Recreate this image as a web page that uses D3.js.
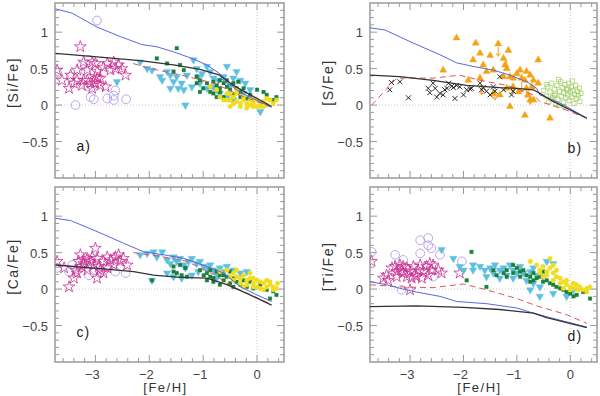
<!DOCTYPE html>
<html lang="en">
<head>
<meta charset="UTF-8">
<title>[X/Fe] vs [Fe/H]</title>
<style>
    body { margin: 0; background: #fff; }
    svg { display: block; font-family: "Liberation Sans", Arial, sans-serif; }
</style>
<script src="https://d3js.org/d3.v7.min.js"></script>
</head>
<body>
<div id="chart"></div>
<script>
// ---------- panel a : [Si/Fe] ----------
const siStars = [[-3.28,0.80],[-3.71,0.48],[-3.46,0.41],[-3.49,0.23],[-3.34,0.34],[-3.22,0.34],[-3.09,0.30],[-3.0,0.57],[-2.97,0.46],[-2.96,0.37],[-3.0,0.30],[-2.91,0.27],[-2.81,0.25],[-2.78,0.57],[-2.66,0.59],[-2.63,0.50],[-2.57,0.55],[-2.51,0.50],[-2.44,0.41],[-2.72,0.48],[-2.85,0.52],[-3.15,0.48],[-3.34,0.48],[-3.22,0.59],[-3.06,0.59],[-3.0,0.39],[-3.15,0.34],[-2.91,0.37],[-3.4,0.30],[-3.62,0.34],[-3.06,0.23],[-3.25,0.27]];
const siCircles = [[-2.97,1.16],[-3.37,0.0],[-3.09,0.11],[-3.03,0.08],[-2.78,0.09],[-2.66,0.13],[-2.63,0.20],[-2.66,0.07],[-2.43,0.08],[-3.12,0.62],[-3.18,0.46],[-3.46,0.39],[-3.15,0.26],[-3.71,0.44],[-3.25,0.54]];
const siTriangles = [[-2.17,0.59],[-2.04,0.50],[-1.95,0.48],[-1.80,0.39],[-1.67,0.46],[-1.76,0.34],[-1.61,0.41],[-1.55,0.32],[-1.46,0.23],[-1.36,0.21],[-1.33,0.0],[-1.61,0.23],[-1.49,0.39],[-1.18,0.62],[-1.12,0.50],[-1.02,0.43],[-0.93,0.53],[-0.87,0.46],[-0.81,0.37],[-0.72,0.34],[-0.62,0.39],[-0.56,0.53],[-0.44,0.37],[-0.38,0.46],[-0.81,0.25],[-0.93,0.23],[-1.06,0.30],[-0.75,0.21],[-0.5,0.27],[-0.31,0.34],[-0.22,0.30],[-0.69,0.16],[-0.56,0.11],[-0.44,0.07],[-0.25,0.16],[-1.30,0.41],[-1.40,0.30],[-1.21,0.25],[-1.09,0.39],[0.06,-0.09],[-0.13,0.21],[-2.60,0.32]];
const siSquares = [[-1.86,0.64],[-1.49,0.78],[-1.67,0.57],[-1.43,0.55],[-1.36,0.48],[-1.55,0.46],[-1.12,0.39],[-1.06,0.34],[-0.93,0.30],[-0.87,0.25],[-0.81,0.32],[-0.75,0.27],[-0.69,0.23],[-0.62,0.30],[-0.56,0.25],[-0.5,0.21],[-0.44,0.30],[-0.38,0.23],[-0.31,0.18],[-0.81,0.16],[-0.75,0.11],[-0.69,0.18],[-0.62,0.11],[-0.5,0.07],[-0.44,0.14],[-0.31,0.11],[-0.19,0.09],[-0.07,0.07],[0.0,0.21],[0.12,0.18],[0.18,0.14],[0.30,0.07],[0.36,0.11],[-1.06,0.18],[-1.0,0.23],[-0.87,0.18],[-0.56,0.34],[-0.69,0.34],[-1.12,0.30],[-0.35,0.32],[-0.25,0.23],[-0.13,0.14]];
const siDots = [[-0.87,0.25],[-0.75,0.21],[-0.69,0.11],[-0.56,0.16],[-0.5,0.07],[-0.44,0.11],[-0.38,0.05],[-0.31,0.02],[-0.25,0.07],[-0.19,0.02],[-0.13,0.0],[-0.07,-0.02],[0.0,0.07],[0.06,0.02],[0.12,0.05],[0.18,0.09],[0.24,0.07],[0.30,0.02],[-0.44,0.02],[-0.5,-0.02],[-0.31,-0.02],[-0.19,-0.04],[-0.07,0.02],[0.06,-0.02],[0.18,0.0],[-0.62,0.07],[-0.38,0.16],[-0.25,0.11],[-0.13,0.07],[0.0,-0.02],[0.12,-0.02],[-0.38,0.21],[-0.5,0.16],[-0.56,0.07],[-0.07,0.07],[0.36,0.07]];
const siBlue = [[-3.74,1.32],[-3.43,1.26],[-2.97,1.07],[-2.54,0.94],[-2.14,0.83],[-1.86,0.80],[-1.55,0.73],[-1.21,0.64],[-0.93,0.55],[-0.69,0.43],[-0.66,0.36],[-0.3,0.17],[0.27,-0.03]];
const siBlack = [[-3.74,0.71],[-2.97,0.66],[-2.17,0.61],[-1.55,0.55],[-1.06,0.49],[-0.69,0.41],[-0.44,0.27],[0.27,-0.02]];
const siRed = [[-2.3,0.57],[-1.98,0.50],[-1.39,0.41],[-0.8,0.3],[-0.3,0.13],[0.25,-0.02]];

// ---------- panel b : [S/Fe] ----------
const sCrosses = [[-3.35,0.31],[-3.19,0.32],[-3.38,0.21],[-3.03,0.10],[-2.66,0.23],[-2.63,0.17],[-2.57,0.30],[-2.53,0.23],[-2.50,0.11],[-2.44,0.16],[-2.38,0.14],[-2.35,0.21],[-2.31,0.23],[-2.28,0.30],[-2.22,0.26],[-2.19,0.24],[-2.16,0.09],[-2.13,0.27],[-2.07,0.25],[-2.0,0.14],[-1.94,0.21],[-1.88,0.22],[-1.85,0.23],[-1.69,0.30],[-1.66,0.21],[-1.63,0.24],[-1.57,0.19],[-1.50,0.14],[-1.44,0.25],[-1.41,0.19],[-1.32,0.39],[-1.25,0.21],[-1.10,0.14],[-1.07,0.19]];
const sTriangles = [[-2.13,0.92],[-1.77,0.85],[-1.35,0.84],[-2.38,0.48],[-1.82,0.62],[-1.69,0.71],[-1.63,0.55],[-1.50,0.68],[-1.57,0.46],[-1.44,0.48],[-1.25,0.64],[-1.22,0.55],[-1.19,0.50],[-1.16,0.75],[-1.13,0.39],[-1.07,0.37],[-1.0,0.43],[-0.94,0.48],[-0.91,0.37],[-0.85,0.34],[-0.82,0.23],[-0.79,0.14],[-0.75,0.07],[-0.69,0.07],[-0.82,0.46],[-0.75,0.41],[-0.69,0.34],[-0.60,0.62],[-0.60,0.30],[-1.32,0.14],[-1.13,-0.02],[-0.85,-0.14],[-0.38,-0.18],[-1.69,0.37],[-1.91,0.34],[-1.25,0.39],[-1.07,0.25],[-0.97,0.18],[-0.72,0.25],[-1.44,0.16],[-1.19,0.23]];
const sLimits = [[-1.35,0.80],[-1.66,0.27],[-1.41,0.20],[-1.19,0.62],[-0.82,0.23],[-0.75,0.14],[-1.07,0.30],[-0.91,0.31]];
const sOpenSquares = [[-0.5,0.2],[-0.45,0.12],[-0.42,0.25],[-0.4,0.05],[-0.38,0.18],[-0.35,0.3],[-0.33,0.1],[-0.3,0.22],[-0.28,0.15],[-0.27,0.02],[-0.25,0.27],[-0.23,0.08],[-0.2,0.19],[-0.18,0.32],[-0.17,0.12],[-0.15,0.24],[-0.13,0.04],[-0.12,0.17],[-0.1,0.28],[-0.08,0.1],[-0.07,0.21],[-0.05,0.14],[-0.03,0.3],[-0.02,0.06],[0.0,0.18],[0.02,0.25],[0.03,0.11],[0.05,0.2],[0.07,0.02],[0.08,0.15],[0.1,0.27],[0.12,0.09],[0.13,0.19],[0.15,0.13],[0.17,0.23],[0.2,0.16],[-0.45,0.28],[-0.36,0.08],[-0.22,0.35],[-0.11,-0.02],[0.04,0.33],[0.18,0.05],[-0.3,0.13],[-0.05,0.22],[-0.2,0.0]];
const sBlue = [[-3.75,1.06],[-3.47,1.03],[-2.94,0.85],[-2.44,0.69],[-2.13,0.58],[-1.82,0.53],[-1.44,0.48],[-1.13,0.41],[-0.82,0.32],[-0.63,0.23],[-0.57,0.14],[-0.32,0.07],[-0.07,-0.02],[0.31,-0.18]];
const sBlack = [[-3.75,0.41],[-3.19,0.39],[-2.57,0.34],[-1.94,0.27],[-1.32,0.24],[-1.0,0.23],[-0.69,0.21],[-0.57,0.16],[-0.32,0.05],[0.31,-0.18]];
const sRed = [[-3.72,0.0],[-3.25,0.37],[-2.57,0.37],[-2.07,0.41],[-1.69,0.34],[-1.19,0.27],[-0.69,0.14],[-0.57,0.05],[-0.07,-0.07],[0.31,-0.18]];

// ---------- panel c : [Ca/Fe] ----------
const caStars = [[-3.49,0.03],[-3.71,0.38],[-3.40,0.15],[-3.34,0.22],[-3.28,0.47],[-3.22,0.40],[-3.25,0.31],[-3.15,0.26],[-3.09,0.38],[-3.03,0.33],[-3.0,0.56],[-2.97,0.42],[-2.94,0.31],[-2.91,0.26],[-2.85,0.38],[-2.78,0.44],[-2.72,0.40],[-2.66,0.33],[-2.63,0.44],[-2.57,0.47],[-2.54,0.38],[-2.48,0.42],[-2.41,0.33],[-2.97,0.15],[-2.85,0.22],[-3.22,0.35],[-3.06,0.44],[-3.15,0.42],[-2.78,0.29],[-3.31,0.38],[-3.58,0.29],[-3.37,0.26]];
const caCircles = [[-3.71,0.29],[-3.49,0.24],[-3.28,0.29],[-3.12,0.19],[-3.03,0.26],[-2.91,0.22],[-2.78,0.31],[-2.63,0.24],[-2.44,0.22],[-2.66,0.40],[-3.12,0.38],[-3.43,0.33]];
const caTriangles = [[-2.17,0.47],[-2.04,0.49],[-1.92,0.51],[-1.76,0.51],[-1.86,0.44],[-1.67,0.40],[-1.61,0.35],[-1.55,0.44],[-1.49,0.38],[-1.43,0.42],[-1.36,0.33],[-1.33,0.29],[-1.27,0.38],[-1.21,0.42],[-1.12,0.35],[-1.06,0.38],[-0.99,0.31],[-0.93,0.29],[-0.87,0.33],[-0.81,0.26],[-0.75,0.22],[-0.69,0.29],[-0.62,0.24],[-0.56,0.31],[-0.44,0.26],[-0.31,0.22],[-0.19,0.24],[-1.67,0.22],[-1.55,0.17],[-1.40,0.15],[-1.21,0.19],[-1.09,0.24],[-0.75,0.15],[-1.95,0.12]];
const caSquares = [[-1.95,0.12],[-1.55,0.31],[-1.43,0.33],[-1.33,0.29],[-1.55,0.24],[-1.49,0.22],[-1.40,0.19],[-1.30,0.17],[-1.06,0.26],[-0.99,0.19],[-0.93,0.22],[-0.87,0.17],[-0.81,0.15],[-0.75,0.24],[-0.69,0.19],[-0.62,0.12],[-0.56,0.17],[-0.5,0.08],[-0.44,0.15],[-0.38,0.10],[-0.31,0.06],[-0.25,0.12],[-0.19,0.03],[-0.07,0.01],[0.06,0.06],[0.18,-0.01],[0.30,-0.03],[0.36,-0.08],[0.24,-0.13],[-0.81,0.10],[-0.69,0.06],[-0.87,0.26],[-0.5,0.24],[-0.44,0.03],[-0.13,0.10],[-0.93,0.12],[-0.62,0.19]];
const caDots = [[-0.69,0.24],[-0.56,0.26],[-0.44,0.22],[-0.38,0.17],[-0.31,0.15],[-0.25,0.19],[-0.19,0.12],[-0.13,0.15],[-0.07,0.08],[0.0,0.12],[0.06,0.10],[0.12,0.08],[0.18,0.12],[0.24,0.06],[0.30,0.03],[0.36,0.01],[-0.44,0.12],[-0.31,0.08],[-0.19,0.06],[-0.07,0.03],[0.06,0.01],[0.18,0.03],[0.30,-0.01],[-0.5,0.17],[-0.13,0.22],[0.0,0.03],[0.12,-0.01],[0.24,0.10],[-0.25,0.03],[-0.38,0.26],[0.38,0.08],[-0.07,0.15]];
const caBlue = [[-3.74,0.97],[-3.46,0.94],[-2.91,0.77],[-2.48,0.63],[-2.1,0.51],[-1.73,0.47],[-1.36,0.42],[-0.93,0.31],[-0.62,0.22],[-0.31,0.03],[0.0,-0.08],[0.27,-0.17]];
const caBlack = [[-3.74,0.33],[-2.91,0.28],[-2.29,0.24],[-1.92,0.19],[-1.43,0.16],[-0.93,0.15],[-0.56,0.06],[-0.19,-0.06],[0.27,-0.22]];
const caRed = [[-2.3,0.5],[-1.8,0.45],[-1.3,0.38],[-0.8,0.2],[-0.5,0.05],[0.0,-0.12],[0.27,-0.21]];

// ---------- panel d : [Ti/Fe] ----------
const tiStars = [[-3.50,0.15],[-3.41,0.12],[-3.44,0.19],[-3.28,0.31],[-3.25,0.24],[-3.19,0.33],[-3.16,0.26],[-3.13,0.22],[-3.06,0.29],[-3.0,0.24],[-2.94,0.31],[-2.91,0.19],[-2.85,0.26],[-2.81,0.33],[-2.75,0.24],[-2.69,0.31],[-2.66,0.19],[-2.60,0.26],[-3.25,0.17],[-3.06,0.17],[-2.97,0.15],[-2.88,0.17],[-3.0,-0.01],[-3.72,0.38],[-2.63,0.35],[-2.47,0.26],[-2.41,0.22],[-2.57,0.33],[-2.78,0.15],[-3.34,0.29],[-3.13,0.31],[-2.07,0.22]];
const tiCircles = [[-2.81,0.67],[-2.66,0.70],[-2.66,0.60],[-2.81,0.49],[-2.60,0.56],[-2.44,0.47],[-3.28,0.47],[-3.13,0.40],[-3.72,0.51],[-3.16,-0.01],[-2.03,0.38],[-2.57,0.17]];
const tiTriangles = [[-2.41,0.54],[-2.19,0.42],[-2.07,0.31],[-2.0,0.26],[-1.82,0.33],[-1.69,0.31],[-1.60,0.26],[-1.50,0.29],[-1.41,0.33],[-1.32,0.26],[-1.25,0.29],[-1.13,0.33],[-1.07,0.26],[-1.0,0.22],[-0.94,0.31],[-0.88,0.22],[-0.75,0.24],[-0.69,0.29],[-0.63,0.19],[-0.51,0.17],[-0.44,0.38],[-0.32,0.35],[-1.57,0.17],[-1.32,0.15],[-1.07,0.15],[-0.82,0.12],[-0.69,0.08],[-0.57,0.03],[-0.75,-0.01],[-0.57,-0.10],[-0.32,-0.06],[-0.07,-0.10],[0.06,-0.01],[-1.82,0.26],[-1.44,0.22],[-1.19,0.19]];
const tiSquares = [[-1.85,0.51],[-1.94,0.12],[-1.57,0.03],[-1.38,0.19],[-1.25,0.22],[-1.19,0.26],[-1.07,0.33],[-1.0,0.29],[-0.94,0.24],[-0.88,0.26],[-0.82,0.19],[-0.75,0.17],[-0.69,0.22],[-0.63,0.15],[-0.57,0.17],[-0.51,0.24],[-0.44,0.12],[-0.38,0.08],[-0.32,0.06],[-0.26,0.03],[-0.19,0.01],[-0.13,-0.01],[-0.07,-0.04],[0.0,-0.06],[0.06,-0.10],[0.12,-0.08],[0.24,-0.04],[0.37,-0.13],[-1.07,0.22],[-0.94,0.17],[-0.75,0.10],[-0.51,0.10],[-0.69,0.12],[-1.19,0.17],[-1.44,0.26]];
const tiDots = [[-0.75,0.38],[-0.63,0.33],[-0.57,0.26],[-0.51,0.31],[-0.44,0.24],[-0.38,0.29],[-0.32,0.22],[-0.26,0.17],[-0.19,0.15],[-0.13,0.10],[-0.07,0.06],[0.0,0.03],[0.06,0.01],[0.12,0.06],[0.18,0.03],[0.24,-0.01],[0.31,0.01],[0.37,0.03],[-0.38,0.42],[-0.51,0.17],[-0.32,0.12],[-0.19,0.08],[-0.07,0.12],[0.06,0.08],[-0.44,0.19],[-0.26,0.26],[-0.13,0.01],[0.0,-0.01],[0.15,-0.01],[0.31,-0.04],[-0.57,0.22],[-0.32,0.33]];
const tiBlue = [[-3.75,0.10],[-3.44,0.06],[-3.19,0.01],[-2.88,-0.04],[-2.44,-0.10],[-2.13,-0.17],[-1.57,-0.20],[-1.0,-0.26],[-0.69,-0.33],[-0.44,-0.38],[-0.07,-0.45],[0.31,-0.52]];
const tiBlack = [[-3.75,-0.24],[-2.88,-0.23],[-2.0,-0.25],[-1.32,-0.28],[-0.69,-0.33],[-0.44,-0.39],[0.31,-0.53]];
const tiRed = [[-3.75,0.06],[-3.19,0.03],[-2.57,0.02],[-2.0,0.07],[-1.57,-0.01],[-1.0,-0.13],[-0.63,-0.23],[-0.07,-0.35],[0.31,-0.47]];

// ---------- shared axis settings ----------
const xDomain = [-3.75, 0.5];
const yDomain = [-1.0, 1.4];
const xTickValues = [-3, -2, -1, 0];
const yTickValues = [-0.5, 0, 0.5, 1];
const yLabels = ["[Si/Fe]", "[S/Fe]", "[Ca/Fe]", "[Ti/Fe]"];
const panelTags = ["a)", "b)", "c)", "d)"];

const col = {
    star: "#c8308f", circle: "#b49be6", tri: "#5fbfe0", square: "#1b7f3c",
    dot: "#f1dc1e", orange: "#f5a316", lgreen: "#9ccc5a",
    blue: "#5868e0", black: "#333333", red: "#e05555", frame: "#9a9a9a"
};

const svg = d3.select("#chart").append("svg")
    .attr("width", 600).attr("height", 396);

const panels = [
    { x0: 55, x1: 284, y0: 3, y1: 178, tag: panelTags[0], ylab: yLabels[0], tagPos: [-3.35, -0.63], bottom: false },
    { x0: 370, x1: 597, y0: 3, y1: 178, tag: panelTags[1], ylab: yLabels[1], tagPos: [-0.05, -0.66], bottom: false },
    { x0: 55, x1: 284, y0: 187, y1: 362, tag: panelTags[2], ylab: yLabels[2], tagPos: [-3.35, -0.66], bottom: true },
    { x0: 370, x1: 597, y0: 187, y1: 362, tag: panelTags[3], ylab: yLabels[3], tagPos: [-0.05, -0.71], bottom: true }
];

function drawFrame(p) {
    const x = d3.scaleLinear().domain(xDomain).range([p.x0, p.x1]);
    const y = d3.scaleLinear().domain(yDomain).range([p.y1, p.y0]);
    const g = svg.append("g");

    // dotted zero lines
    g.append("line").attr("x1", x(0)).attr("x2", x(0)).attr("y1", p.y0).attr("y2", p.y1)
        .attr("stroke", "#c8c8c8").attr("stroke-dasharray", "1,2");
    g.append("line").attr("x1", p.x0).attr("x2", p.x1).attr("y1", y(0)).attr("y2", y(0))
        .attr("stroke", "#c8c8c8").attr("stroke-dasharray", "1,2");

    // inward ticks on all sides
    const xMinor = d3.range(-3.6, 0.45, 0.2).map(v => +v.toFixed(2));
    const yMinor = d3.range(-0.9, 1.35, 0.1).map(v => +v.toFixed(2));
    xMinor.forEach(v => {
        const len = xTickValues.includes(Math.round(v * 10) / 10) ? 7 : 4;
        g.append("line").attr("x1", x(v)).attr("x2", x(v)).attr("y1", p.y1).attr("y2", p.y1 - len)
            .attr("stroke", col.frame);
        g.append("line").attr("x1", x(v)).attr("x2", x(v)).attr("y1", p.y0).attr("y2", p.y0 + len)
            .attr("stroke", col.frame);
    });
    yMinor.forEach(v => {
        const len = [-0.5, 0, 0.5, 1].includes(Math.round(v * 10) / 10) ? 7 : 4;
        g.append("line").attr("x1", p.x0).attr("x2", p.x0 + len).attr("y1", y(v)).attr("y2", y(v))
            .attr("stroke", col.frame);
        g.append("line").attr("x1", p.x1).attr("x2", p.x1 - len).attr("y1", y(v)).attr("y2", y(v))
            .attr("stroke", col.frame);
    });

    g.append("rect").attr("x", p.x0).attr("y", p.y0)
        .attr("width", p.x1 - p.x0).attr("height", p.y1 - p.y0)
        .attr("fill", "none").attr("stroke", col.frame).attr("stroke-width", 1.5);

    // y tick labels
    yTickValues.forEach(v => {
        g.append("text").attr("x", p.x0 - 7).attr("y", y(v) + 5)
            .attr("text-anchor", "end").attr("font-size", 13).attr("fill", "#444")
            .text(v < 0 ? "\u2212" + Math.abs(v) : String(v));
    });
    // y label
    g.append("text")
        .attr("transform", `translate(${p.x0 - 37},${(p.y0 + p.y1) / 2 - 8}) rotate(-90)`)
        .attr("text-anchor", "middle").attr("font-size", 14).attr("letter-spacing", 1.5)
        .attr("fill", "#333").text(p.ylab);

    if (p.bottom) {
        xTickValues.forEach(v => {
            g.append("text").attr("x", x(v) + (v < 0 ? -3 : 0)).attr("y", p.y1 + 17)
                .attr("text-anchor", "middle").attr("font-size", 13).attr("fill", "#444")
                .text(v < 0 ? "\u2212" + Math.abs(v) : String(v));
        });
        g.append("text").attr("x", (p.x0 + p.x1) / 2 - 4).attr("y", p.y1 + 30)
            .attr("text-anchor", "middle").attr("font-size", 13).attr("letter-spacing", 1.5)
            .attr("fill", "#333").text("[Fe/H]");
    }

    g.append("text").attr("x", x(p.tagPos[0])).attr("y", y(p.tagPos[1]))
        .attr("font-size", 14).attr("letter-spacing", 1).attr("fill", "#222").text(p.tag);

    const clip = "clip" + p.x0 + "_" + p.y0;
    svg.append("clipPath").attr("id", clip).append("rect")
        .attr("x", p.x0).attr("y", p.y0).attr("width", p.x1 - p.x0).attr("height", p.y1 - p.y0);
    const plot = svg.append("g").attr("clip-path", `url(#${clip})`);
    return { x, y, plot };
}

function symbols(ctx, data, type, size, fill, stroke, sw, rot) {
    ctx.plot.selectAll(null).data(data).enter().append("path")
        .attr("d", d3.symbol().type(type).size(size))
        .attr("transform", d => `translate(${ctx.x(d[0])},${ctx.y(d[1])})` + (rot ? ` rotate(${rot})` : ""))
        .attr("fill", fill).attr("stroke", stroke).attr("stroke-width", sw);
}

function curve(ctx, data, color, dash, w) {
    ctx.plot.append("path").datum(data)
        .attr("d", d3.line().x(d => ctx.x(d[0])).y(d => ctx.y(d[1])))
        .attr("fill", "none").attr("stroke", color).attr("stroke-width", w || 1)
        .attr("stroke-dasharray", dash || null);
}

function crosses(ctx, data) {
    const s = 2.5;
    ctx.plot.selectAll(null).data(data).enter().append("path")
        .attr("d", d => {
            const cx = ctx.x(d[0]), cy = ctx.y(d[1]);
            return `M${cx - s},${cy - s}L${cx + s},${cy + s}M${cx - s},${cy + s}L${cx + s},${cy - s}`;
        })
        .attr("stroke", "#111").attr("stroke-width", 0.9);
}

function limits(ctx, data) {
    ctx.plot.selectAll(null).data(data).enter().append("path")
        .attr("d", d => {
            const cx = ctx.x(d[0]), cy = ctx.y(d[1]), ey = ctx.y(d[1] - 0.13);
            return `M${cx},${cy}L${cx},${ey}M${cx - 2},${ey - 3}L${cx},${ey}L${cx + 2},${ey - 3}`;
        })
        .attr("fill", "none").attr("stroke", col.orange).attr("stroke-width", 1);
}

function drawHalo(c, circles, stars, tris, squares, dots) {
    symbols(c, circles, d3.symbolCircle, 60, "none", col.circle, 0.9);
    symbols(c, stars, d3.symbolStar, 42, "none", col.star, 0.8);
    symbols(c, tris, d3.symbolTriangle, 24, col.tri, col.tri, 0.4, 180);
    symbols(c, squares, d3.symbolSquare, 13, col.square, col.square, 0.3);
    symbols(c, dots, d3.symbolCircle, 16, col.dot, col.dot, 0.4);
}

// panel a
let c = drawFrame(panels[0]);
drawHalo(c, siCircles, siStars, siTriangles, siSquares, siDots);
curve(c, siRed, col.red, "6,4");
curve(c, siBlue, col.blue);
curve(c, siBlack, col.black, null, 1.3);

// panel b
c = drawFrame(panels[1]);
symbols(c, sOpenSquares, d3.symbolSquare, 18, "none", col.lgreen, 0.7);
limits(c, sLimits);
symbols(c, sTriangles, d3.symbolTriangle, 22, col.orange, col.orange, 0.4);
crosses(c, sCrosses);
curve(c, sRed, col.red, "6,4");
curve(c, sBlue, col.blue);
curve(c, sBlack, col.black, null, 1.3);

// panel c
c = drawFrame(panels[2]);
drawHalo(c, caCircles, caStars, caTriangles, caSquares, caDots);
curve(c, caRed, col.red, "6,4");
curve(c, caBlue, col.blue);
curve(c, caBlack, col.black, null, 1.3);

// panel d
c = drawFrame(panels[3]);
drawHalo(c, tiCircles, tiStars, tiTriangles, tiSquares, tiDots);
curve(c, tiRed, col.red, "6,4");
curve(c, tiBlue, col.blue);
curve(c, tiBlack, col.black, null, 1.3);
</script>
</body>
</html>
